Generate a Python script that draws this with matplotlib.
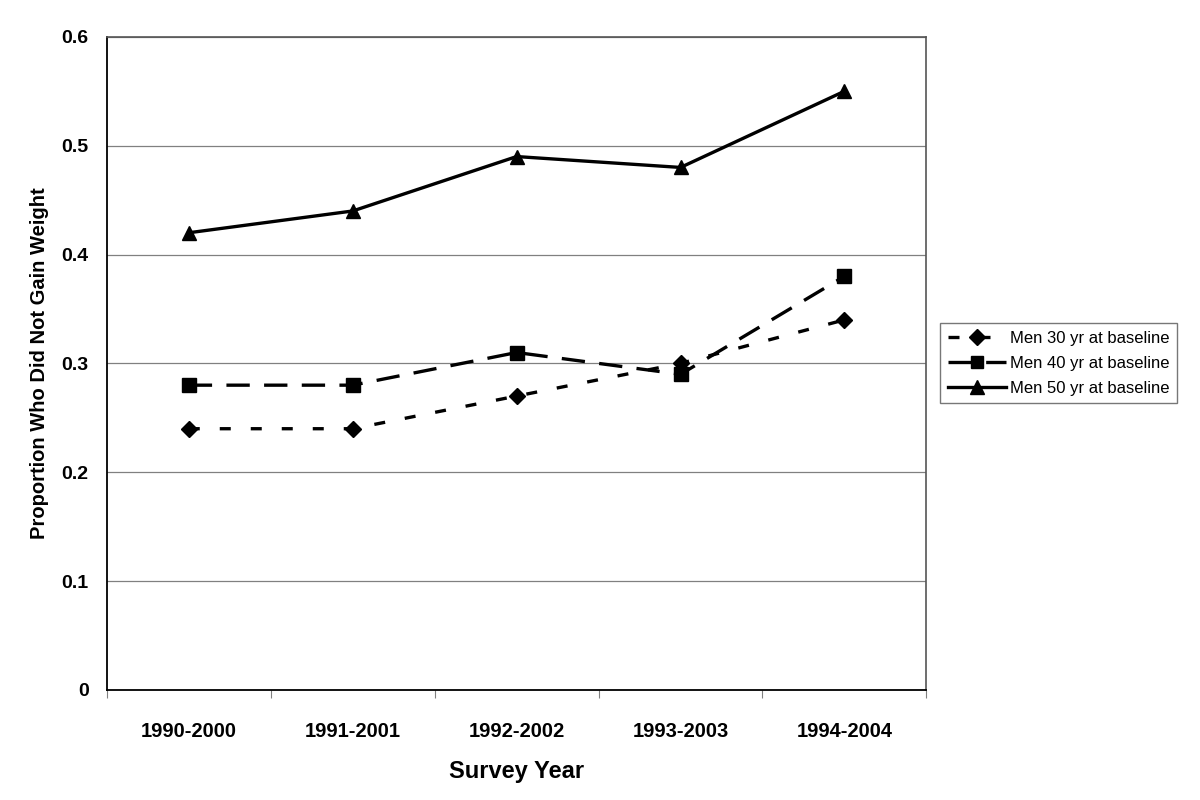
import numpy as np
import matplotlib
matplotlib.use("Agg")
import matplotlib.pyplot as plt

plt.rcParams['font.family'] = ['Liberation Sans', 'DejaVu Sans']

years = ["1990-2000", "1991-2001", "1992-2002", "1993-2003", "1994-2004"]
men30 = [0.24, 0.24, 0.27, 0.30, 0.34]
men40 = [0.28, 0.28, 0.31, 0.29, 0.38]
men50 = [0.42, 0.44, 0.49, 0.48, 0.55]
labels = ["Men 30 yr at baseline", "Men 40 yr at baseline", "Men 50 yr at baseline"]

fig = plt.figure(figsize=(12, 8), dpi=100)
ax = fig.add_axes([0.089, 0.1375, 0.683, 0.8165])

x = np.arange(len(years))
ax.plot(x, men30, color='black', lw=2.4, linestyle=(0, (3.3, 6.0)),
        marker='D', markersize=8.5, label=labels[0])
ax.plot(x, men40, color='black', lw=2.4, linestyle=(0, (7.0, 4.3)),
        marker='s', markersize=9.5, label=labels[1])
ax.plot(x, men50, color='black', lw=2.4, linestyle='-',
        marker='^', markersize=10.5, label=labels[2])

ax.set_xlim(-0.5, len(years) - 0.5)
ax.set_ylim(0, 0.6)
ax.set_yticks(np.arange(0, 0.61, 0.1))
ax.set_yticklabels(["0", "0.1", "0.2", "0.3", "0.4", "0.5", "0.6"],
                   fontsize=14, fontweight='bold')
ax.tick_params(axis='y', length=0, pad=13)
ax.yaxis.grid(True, color='#808080', lw=0.9)
ax.set_axisbelow(True)

# category ticks at boundaries, labels in the middle
ax.set_xticks(np.arange(-0.5, len(years), 1.0))
ax.set_xticklabels([])
ax.tick_params(axis='x', which='major', length=6, color='#808080', direction='out')
ax.set_xticks(x, minor=True)
ax.set_xticklabels(years, minor=True, fontsize=14.5, fontweight='bold')
ax.tick_params(axis='x', which='minor', length=0, pad=23)

for s in ['left', 'bottom']:
    ax.spines[s].set_color('black')
    ax.spines[s].set_linewidth(1.3)
for s in ['top', 'right']:
    ax.spines[s].set_color('#555555')
    ax.spines[s].set_linewidth(1.2)

ax.set_xlabel("Survey Year", fontsize=17, fontweight='bold', labelpad=14)
ax.set_ylabel("Proportion Who Did Not Gain Weight", fontsize=14.5,
              fontweight='bold', labelpad=9)

leg = ax.legend(loc='center left', bbox_to_anchor=(1.017, 0.5), fontsize=12,
                frameon=True, fancybox=False, edgecolor='#555555',
                handlelength=3.5, handletextpad=0.25, borderpad=0.45,
                labelspacing=0.6, borderaxespad=0, markerscale=0.95)
leg.get_frame().set_linewidth(1.0)

fig.savefig("out.png", dpi=100)
